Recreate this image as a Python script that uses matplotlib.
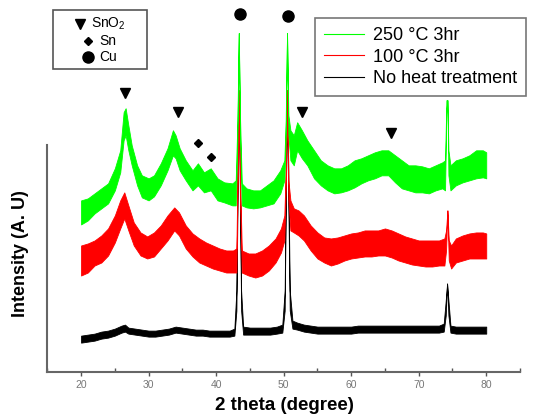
import matplotlib
matplotlib.use('Agg')
import matplotlib.pyplot as plt
from matplotlib.lines import Line2D
from matplotlib.patches import Rectangle

plt.rcParams['font.family'] = ['Liberation Sans', 'DejaVu Sans']
plt.rcParams['mathtext.fontset'] = 'custom'
plt.rcParams['mathtext.rm'] = 'Liberation Sans'
plt.rcParams['mathtext.default'] = 'regular'

# 2 theta positions and noise band (low / high) for each trace, arbitrary units
green_x = [20.0, 21.0, 22.0, 23.0, 24.0, 25.0, 25.8, 26.3, 26.6, 27.0, 27.5, 28.3,
           29.0, 30.0, 30.8, 31.8, 32.8, 33.6, 34.0, 34.6, 35.5, 36.5, 37.3, 38.2,
           39.2, 40.2, 41.2, 42.4, 42.9, 43.15, 43.35, 43.55, 43.8, 44.5, 45.5, 46.5,
           47.5, 48.5, 49.5, 50.1, 50.3, 50.5, 50.7, 51.0, 51.5, 52.0, 52.7, 53.5,
           54.5, 55.5, 56.5, 57.5, 58.5, 59.5, 60.5, 61.5, 62.5, 63.5, 64.5, 65.5,
           66.5, 67.5, 68.5, 69.5, 70.5, 71.5, 72.5, 73.5, 73.9, 74.1, 74.25, 74.4,
           74.7, 75.5, 76.5, 77.5, 78.5, 79.5, 80.0]
green_hi = [171, 173, 178, 183, 188, 203, 221, 259, 263, 246, 226, 206,
            196, 193, 196, 208, 223, 241, 236, 223, 211, 201, 208, 199,
            203, 193, 189, 188, 191, 251, 338, 251, 188, 183, 181, 181,
            186, 191, 201, 211, 251, 338, 256, 241, 236, 249, 241, 231,
            221, 211, 206, 203, 203, 206, 211, 213, 216, 219, 221, 221,
            216, 211, 206, 206, 205, 203, 206, 209, 211, 271, 271, 221,
            206, 211, 213, 216, 221, 221, 219]
green_lo = [147, 151, 158, 163, 168, 181, 199, 231, 236, 221, 206, 186,
            174, 171, 175, 186, 201, 216, 213, 201, 191, 181, 186, 179,
            181, 171, 169, 166, 166, 231, 338, 231, 166, 164, 163, 164,
            166, 168, 178, 191, 231, 338, 236, 211, 206, 221, 213, 206,
            193, 186, 181, 178, 179, 181, 184, 188, 191, 193, 196, 196,
            189, 183, 181, 179, 179, 178, 181, 183, 181, 261, 271, 196,
            181, 186, 189, 191, 193, 194, 193]

red_x = [20.0, 21.0, 22.0, 23.0, 24.0, 25.0, 25.8, 26.4, 27.0, 27.8, 28.8, 29.8,
         30.8, 31.8, 32.8, 33.8, 34.5, 35.5, 36.5, 37.5, 38.5, 39.5, 40.5, 41.5,
         42.5, 43.0, 43.15, 43.35, 43.55, 43.8, 44.8, 45.8, 46.8, 47.8, 48.8, 49.6,
         50.1, 50.3, 50.5, 50.7, 51.0, 51.5, 52.2, 53.0, 54.0, 55.0, 56.0, 57.0,
         58.0, 59.0, 60.0, 61.0, 62.0, 63.0, 64.0, 65.0, 66.0, 67.0, 68.0, 69.0,
         70.0, 71.0, 72.0, 73.0, 73.8, 74.05, 74.25, 74.45, 74.8, 75.5, 76.5, 77.5,
         78.5, 79.5, 80.0]
red_hi = [126, 128, 131, 136, 143, 156, 171, 179, 166, 149, 139, 135,
          139, 146, 156, 164, 159, 146, 138, 133, 129, 126, 123, 121,
          121, 123, 191, 281, 191, 121, 118, 118, 121, 126, 133, 143,
          156, 201, 281, 191, 171, 163, 161, 156, 146, 139, 134, 133,
          134, 136, 138, 139, 141, 141, 141, 143, 141, 138, 135, 133,
          131, 131, 131, 131, 133, 141, 161, 131, 126, 133, 136, 138,
          139, 139, 138]
red_lo = [96, 99, 106, 109, 116, 129, 143, 153, 141, 126, 116, 113,
          115, 123, 131, 141, 136, 123, 115, 109, 106, 103, 101, 99,
          99, 99, 171, 281, 171, 99, 96, 94, 96, 101, 109, 119,
          131, 181, 281, 171, 141, 139, 136, 131, 121, 113, 109, 106,
          108, 111, 113, 114, 115, 115, 116, 116, 114, 111, 109, 107,
          106, 105, 105, 106, 106, 121, 161, 111, 103, 109, 111, 113,
          113, 113, 113]

black_x = [20.0, 21.0, 22.0, 23.0, 24.0, 25.0, 26.0, 26.5, 27.0, 28.0, 29.0, 30.0,
           31.0, 32.0, 33.0, 34.0, 35.0, 36.0, 37.0, 38.0, 39.0, 40.0, 41.0, 42.0,
           42.7, 43.0, 43.2, 43.35, 43.5, 43.7, 44.0, 45.0, 46.0, 47.0, 48.0, 49.0,
           49.8, 50.15, 50.35, 50.5, 50.65, 50.9, 51.3, 52.0, 53.0, 54.0, 55.0, 56.0,
           57.0, 58.0, 59.0, 60.0, 61.0, 62.0, 63.0, 64.0, 65.0, 66.0, 67.0, 68.0,
           69.0, 70.0, 71.0, 72.0, 73.0, 73.7, 74.0, 74.2, 74.4, 74.7, 75.5, 76.5,
           77.5, 78.5, 79.5, 80.0]
black_hi = [36, 37, 38, 40, 41, 43, 46, 47, 44, 43, 42, 41,
            41, 42, 43, 45, 44, 43, 42, 42, 41, 41, 41, 41,
            43, 81, 221, 271, 221, 81, 45, 44, 44, 44, 44, 45,
            47, 81, 221, 261, 221, 81, 51, 49, 47, 46, 45, 45,
            45, 45, 45, 45, 46, 46, 46, 46, 46, 46, 46, 46,
            46, 46, 46, 46, 46, 48, 71, 88, 71, 46, 45, 45,
            45, 45, 45, 45]
black_lo = [29, 30, 31, 33, 34, 36, 39, 40, 38, 37, 36, 35,
            35, 36, 37, 39, 38, 37, 36, 36, 35, 35, 35, 35,
            36, 61, 191, 271, 191, 61, 37, 37, 37, 37, 37, 38,
            39, 61, 191, 261, 191, 61, 43, 42, 40, 39, 38, 38,
            38, 38, 38, 38, 39, 39, 39, 39, 39, 39, 39, 39,
            39, 39, 39, 39, 39, 40, 56, 88, 56, 39, 38, 38,
            38, 38, 38, 38]

# phase markers: 2 theta and height
sno2_x = [26.5, 34.4, 52.7, 65.9]
sno2_y = [278, 259, 259, 238]
sn_x = [37.3, 39.3]
sn_y = [228, 214]
cu_x = [43.6, 50.7]
cu_y = [357, 355]

series_labels = ['250 °C 3hr', '100 °C 3hr', 'No heat treatment']
series_colors = ['#00ff00', '#ff0000', '#000000']
phase_labels = ['SnO$_2$', 'Sn', 'Cu']
phase_markers = ['v', 'D', 'o']

W, H = 534, 419
fig = plt.figure(figsize=(5.34, 4.19), dpi=100)
ax = fig.add_axes([0.0886, 0.1129, 0.8852, 0.8751])

for xs, lo, hi, c in [(black_x, black_lo, black_hi, '#000000'),
                      (red_x, red_lo, red_hi, '#ff0000'),
                      (green_x, green_lo, green_hi, '#00ff00')]:
    ax.fill_between(xs, lo, hi, color=c, linewidth=0.6, edgecolor=c)

ax.plot(sno2_x, sno2_y, 'v', color='black', ms=7, clip_on=False)
ax.plot(sn_x, sn_y, 'D', color='black', ms=4.5, clip_on=False)
ax.plot(cu_x, cu_y, 'o', color='black', ms=8, clip_on=False)

ax.set_xlim(15, 85)
ax.set_ylim(0, 366)
ax.set_xticks(range(20, 81, 10))
ax.set_xticks(range(15, 86, 5), minor=True)
ax.tick_params(axis='x', which='major', direction='out', length=3, width=1,
               colors='#555555', labelsize=7.5, labelcolor='#777777', pad=3)
ax.tick_params(axis='x', which='minor', direction='in', length=3, width=1, colors='#555555')
ax.set_yticks([])
for s in ['top', 'right']:
    ax.spines[s].set_visible(False)
ax.spines['left'].set_bounds(0, 226)
ax.spines['left'].set_color('#666666')
ax.spines['bottom'].set_color('#666666')
ax.spines['left'].set_linewidth(1.5)
ax.spines['bottom'].set_linewidth(1.5)

fig.text(284 / W, 1 - 405 / H, '2 theta (degree)', ha='center', va='center',
         fontsize=13.5, fontweight='bold')
fig.text(21 / W, 1 - 254 / H, 'Intensity (A. U)', ha='center', va='center',
         rotation=90, fontsize=13, fontweight='bold')

# legend of curves
line_handles = [Line2D([], [], color=c, lw=0.8) for c in series_colors]
leg1 = ax.legend(line_handles, series_labels, loc='upper left',
                 bbox_to_anchor=(315 / W, 1 - 18 / H), bbox_transform=fig.transFigure,
                 fontsize=13, frameon=True, fancybox=False, edgecolor='#555555',
                 handlelength=2.2, handletextpad=0.5, labelspacing=0.25,
                 borderpad=0.5, borderaxespad=0)
leg1.get_frame().set_linewidth(1.2)

# box of phase symbols
fig.add_artist(Rectangle((53 / W, 1 - 69 / H), 94 / W, 59 / H, transform=fig.transFigure,
                         fill=False, edgecolor='#555555', linewidth=1.2))
row_y = [24, 41, 57]
mark_x = [80, 88, 88]
text_x = [91, 99, 99]
mark_size = [7, 4.5, 8]
for lab, m, yy, mx, tx, ms in zip(phase_labels, phase_markers, row_y, mark_x, text_x, mark_size):
    fig.add_artist(Line2D([mx / W], [1 - yy / H], marker=m, color='black', ms=ms,
                          ls='none', transform=fig.transFigure))
    fig.text(tx / W, 1 - yy / H, lab, ha='left', va='center', fontsize=10)

fig.savefig('out.png', dpi=100)
